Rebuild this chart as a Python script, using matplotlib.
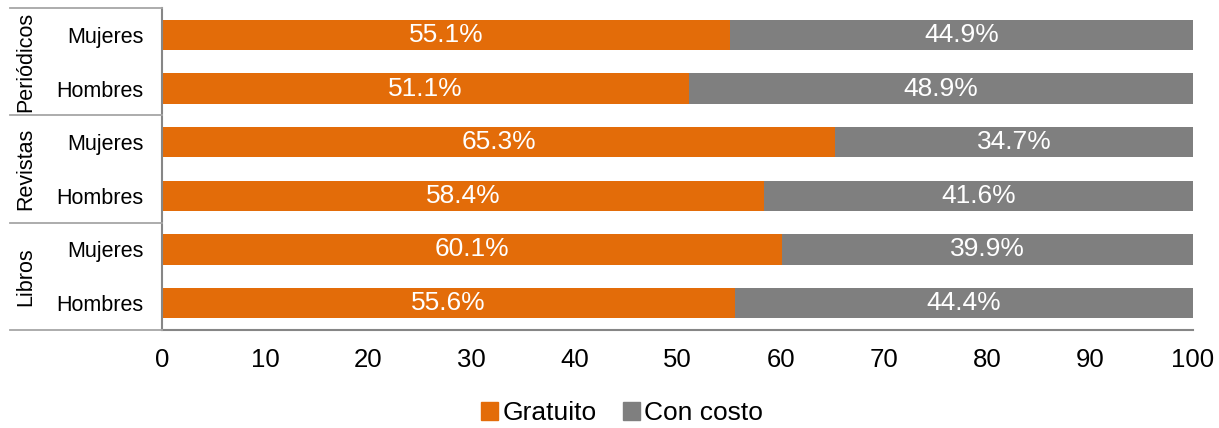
import matplotlib
matplotlib.use("Agg")
import matplotlib.pyplot as plt
from matplotlib.lines import Line2D
from matplotlib.patches import Patch

plt.rcParams['font.family'] = ['Liberation Sans', 'DejaVu Sans']

groups = ["Periódicos", "Revistas", "Libros"]
sexes = ["Mujeres", "Hombres"]
gratuito = [55.1, 51.1, 65.3, 58.4, 60.1, 55.6]
con_costo = [44.9, 48.9, 34.7, 41.6, 39.9, 44.4]
xticks = [0, 10, 20, 30, 40, 50, 60, 70, 80, 90, 100]

c_orange = "#E36C09"
c_grey = "#7F7F7F"

fig = plt.figure(figsize=(12.19, 4.28), dpi=100)
ax = fig.add_axes([162/1219, 1 - 330/428, (1193-162)/1219, (330-8)/428])

n = len(gratuito)
ypos = list(range(n))
bh = 0.56
b1 = ax.barh(ypos, gratuito, height=bh, color=c_orange)
b2 = ax.barh(ypos, con_costo, left=gratuito, height=bh, color=c_grey)
for bars, vals in ((b1, gratuito), (b2, con_costo)):
    for rect, v in zip(bars, vals):
        ax.text(rect.get_x() + rect.get_width()/2, rect.get_y() + rect.get_height()/2,
                f"{v:.1f}%", ha="center", va="center", color="white", fontsize=19)

ax.set_xlim(0, 100)
ax.set_ylim(n - 0.5, -0.5)
ax.set_xticks(xticks)
ax.set_xticklabels([str(t) for t in xticks], fontsize=18.5)
ax.tick_params(axis="x", length=0, pad=13)
ax.set_yticks(ypos)
ax.set_yticklabels([sexes[i % 2] for i in range(n)], fontsize=15.5)
ax.tick_params(axis="y", length=0, pad=13.5)
for s in ("top", "right"):
    ax.spines[s].set_visible(False)
for s in ("left", "bottom"):
    ax.spines[s].set_color("#868686")
    ax.spines[s].set_linewidth(1.5)

# group separators and labels
x0 = 10/1219
x1 = 162/1219
for k in range(len(groups) + 1):
    yy = -0.5 + 2*k
    ydisp = ax.transData.transform((0, yy))[1]
    yfig = fig.transFigure.inverted().transform((0, ydisp))[1]
    fig.add_artist(Line2D([x0, x1], [yfig, yfig], color="#A6A6A6", lw=1.3))
for k, g in enumerate(groups):
    yc = 0.5 + 2*k
    ydisp = ax.transData.transform((0, yc))[1]
    yfig = fig.transFigure.inverted().transform((0, ydisp))[1]
    fig.text(26/1219, yfig, g, rotation=90, ha="center", va="center", fontsize=15.5)

handles = [Patch(color=c_orange, label="Gratuito"), Patch(color=c_grey, label="Con costo")]
fig.legend(handles=handles, loc="center", bbox_to_anchor=(622/1219, 1 - 413/428),
           ncol=2, frameon=False, fontsize=19, handlelength=0.65, handleheight=0.65,
           handletextpad=0.15, columnspacing=1.0)

fig.savefig("out.png", dpi=100)
